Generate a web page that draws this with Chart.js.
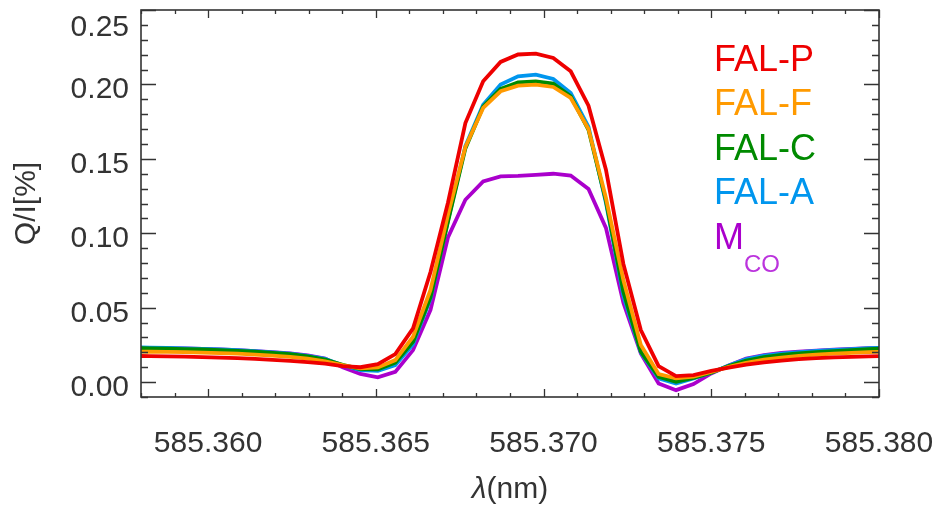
<!DOCTYPE html>
<html>
<head>
<meta charset="utf-8">
<script src="https://cdn.jsdelivr.net/npm/chart.js@4"></script>
<style>
  body { margin: 0; background: #fff; }
  #wrap { width: 938px; height: 508px; }
</style>
</head>
<body>
<div id="wrap"><canvas id="qiChart" width="938" height="508"></canvas></div>
<script>
// wavelength grid (nm)
const wavelengths = [
    585.35774, 585.35826, 585.35878, 585.35931, 585.35983, 585.36035, 585.36088, 585.36140,
    585.36192, 585.36245, 585.36297, 585.36349, 585.36401, 585.36454, 585.36506, 585.36558,
    585.36611, 585.36663, 585.36715, 585.36767, 585.36820, 585.36872, 585.36924, 585.36977,
    585.37029, 585.37081, 585.37134, 585.37186, 585.37238, 585.37290, 585.37343, 585.37395,
    585.37447, 585.37500, 585.37552, 585.37604, 585.37657, 585.37709, 585.37761, 585.37813,
    585.37866, 585.37918, 585.37970, 585.38023
];

// Q/I [%] for each atmosphere model
const falP = [
    0.0176, 0.0175, 0.0173, 0.0171, 0.0168, 0.0165, 0.0161, 0.0156, 0.0150, 0.0143, 0.0135,
    0.0124, 0.0108, 0.0100, 0.0121, 0.0188, 0.0361, 0.0740, 0.1205, 0.1741, 0.2021, 0.2151,
    0.2201, 0.2207, 0.2178, 0.2088, 0.1857, 0.1427, 0.0794, 0.0350, 0.0108, 0.0040, 0.0047,
    0.0075, 0.0097, 0.0117, 0.0133, 0.0145, 0.0154, 0.0161, 0.0166, 0.0170, 0.0173, 0.0175
];
const falF = [
    0.0205, 0.0204, 0.0203, 0.0201, 0.0198, 0.0195, 0.0191, 0.0185, 0.0178, 0.0170, 0.0158,
    0.0140, 0.0114, 0.0093, 0.0099, 0.0148, 0.0305, 0.0620, 0.1124, 0.1580, 0.1842, 0.1954,
    0.1992, 0.1999, 0.1983, 0.1909, 0.1700, 0.1237, 0.0686, 0.0249, 0.0054, 0.0025, 0.0037,
    0.0068, 0.0102, 0.0130, 0.0151, 0.0165, 0.0176, 0.0185, 0.0192, 0.0197, 0.0202, 0.0205
];
const falC = [
    0.0228, 0.0227, 0.0225, 0.0222, 0.0219, 0.0215, 0.0210, 0.0204, 0.0196, 0.0188, 0.0173,
    0.0152, 0.0116, 0.0088, 0.0085, 0.0130, 0.0271, 0.0570, 0.1077, 0.1570, 0.1851, 0.1970,
    0.2014, 0.2021, 0.2005, 0.1920, 0.1695, 0.1218, 0.0606, 0.0204, 0.0036, 0.0002, 0.0029,
    0.0064, 0.0108, 0.0145, 0.0168, 0.0183, 0.0193, 0.0201, 0.0208, 0.0215, 0.0222, 0.0226
];
const falA = [
    0.0233, 0.0232, 0.0230, 0.0227, 0.0223, 0.0219, 0.0214, 0.0208, 0.0199, 0.0191, 0.0177,
    0.0156, 0.0113, 0.0080, 0.0075, 0.0115, 0.0255, 0.0560, 0.1085, 0.1585, 0.1864, 0.1999,
    0.2055, 0.2066, 0.2037, 0.1943, 0.1715, 0.1205, 0.0579, 0.0199, 0.0025, -0.0009, 0.0024,
    0.0063, 0.0112, 0.0154, 0.0178, 0.0192, 0.0202, 0.0210, 0.0216, 0.0222, 0.0228, 0.0232
];
const mCO = [
    0.0231, 0.0230, 0.0228, 0.0226, 0.0223, 0.0219, 0.0214, 0.0208, 0.0201, 0.0193, 0.0180,
    0.0158, 0.0100, 0.0055, 0.0032, 0.0069, 0.0215, 0.0485, 0.0972, 0.1225, 0.1348, 0.1382,
    0.1386, 0.1393, 0.1400, 0.1388, 0.1297, 0.1036, 0.0534, 0.0193, -0.0009, -0.0054, -0.0013,
    0.0058, 0.0112, 0.0158, 0.0182, 0.0196, 0.0205, 0.0212, 0.0218, 0.0223, 0.0229, 0.0232
];

const modelNames = ['FAL-P', 'FAL-F', 'FAL-C', 'FAL-A', 'M'];
const modelColors = ['#ee0000', '#ff9a00', '#008a00', '#0096ee', '#aa00cc'];
const modelValues = [falP, falF, falC, falA, mCO];

const xTicks = [585.360, 585.365, 585.370, 585.375, 585.380];
const yTicks = [0.00, 0.05, 0.10, 0.15, 0.20, 0.25];

const X_MIN = 585.358, X_MAX = 585.380;
const Y_MIN = -0.01, Y_MAX = 0.25;

const FONT = '"Liberation Sans", Arial, Helvetica, sans-serif';
const AXIS_COLOR = '#333';

// box with inward ticks on all four sides + tick labels
const framePlugin = {
    id: 'frame',
    afterDatasetsDraw(chart) {
        const { ctx, chartArea: a, scales: { x, y } } = chart;
        ctx.save();
        ctx.strokeStyle = AXIS_COLOR;
        ctx.lineWidth = 1.6;
        ctx.strokeRect(a.left, a.top, a.right - a.left, a.bottom - a.top);

        ctx.beginPath();
        // x: minor every 0.001, major every 0.005
        for (let n = 585358; n <= 585380; n++) {
            const px = Math.round(x.getPixelForValue(n / 1000)) + 0.5;
            const len = n % 5 === 0 ? 8 : 4;
            ctx.moveTo(px, a.bottom); ctx.lineTo(px, a.bottom - len);
            ctx.moveTo(px, a.top); ctx.lineTo(px, a.top + len);
        }
        // y: minor every 0.01, major every 0.05
        for (let n = -1; n <= 25; n++) {
            const py = Math.round(y.getPixelForValue(n / 100)) + 0.5;
            const len = n % 5 === 0 ? 15 : 7;
            ctx.moveTo(a.left, py); ctx.lineTo(a.left + len, py);
            ctx.moveTo(a.right, py); ctx.lineTo(a.right - len, py);
        }
        ctx.lineWidth = 1.3;
        ctx.stroke();

        ctx.fillStyle = AXIS_COLOR;
        ctx.font = '30px ' + FONT;
        ctx.textBaseline = 'alphabetic';
        ctx.textAlign = 'center';
        xTicks.forEach(v => {
            ctx.fillText(v.toFixed(3), x.getPixelForValue(v), a.bottom + 55);
        });
        ctx.textAlign = 'right';
        yTicks.forEach(v => {
            // keep the top label inside the canvas
            const base = Math.max(y.getPixelForValue(v) + 14, a.top + 26);
            ctx.fillText(v.toFixed(2), a.left - 12, base);
        });

        // x axis title, italic lambda followed by the unit
        const cx = (a.left + a.right) / 2;
        const lam = 'λ', unit = '(nm)';
        ctx.font = 'italic 30px ' + FONT;
        const wl = ctx.measureText(lam).width;
        ctx.font = '30px ' + FONT;
        const wu = ctx.measureText(unit).width;
        const x0 = cx - (wl + wu) / 2;
        ctx.textAlign = 'left';
        ctx.font = 'italic 30px ' + FONT;
        ctx.fillText(lam, x0, 498);
        ctx.font = '30px ' + FONT;
        ctx.fillText(unit, x0 + wl, 498);
        ctx.restore();
    },
    afterDraw(chart) {
        const { ctx } = chart;
        ctx.save();
        ctx.font = '36px ' + FONT;
        ctx.textAlign = 'left';
        ctx.textBaseline = 'alphabetic';
        modelNames.forEach((name, i) => {
            ctx.fillStyle = modelColors[i];
            ctx.fillText(name, 714, 70.5 + i * 44.5);
        });
        // subscript of M_CO
        ctx.font = '24px ' + FONT;
        ctx.fillStyle = '#bb33dd';
        ctx.fillText('CO', 744, 272);
        ctx.restore();
    }
};

const datasets = modelValues.map((vals, i) => ({
    label: modelNames[i],
    data: vals.map((v, j) => ({ x: wavelengths[j], y: v })),
    borderColor: modelColors[i],
    borderWidth: 3.8,
    pointRadius: 0,
    tension: 0,
    fill: false,
    clip: 0
}));

new Chart(document.getElementById('qiChart'), {
    type: 'line',
    data: { datasets: datasets },
    options: {
        responsive: false,
        animation: false,
        layout: { padding: { top: 10, right: 59, left: 0, bottom: 0 } },
        plugins: {
            legend: { display: false },
            tooltip: { enabled: false }
        },
        scales: {
            x: {
                type: 'linear',
                min: X_MIN,
                max: X_MAX,
                grid: { display: false },
                border: { display: false },
                ticks: { display: false },
                afterFit(scale) { scale.height = 111; }
            },
            y: {
                type: 'linear',
                min: Y_MIN,
                max: Y_MAX,
                grid: { display: false },
                border: { display: false },
                ticks: { display: false },
                title: {
                    display: true,
                    text: 'Q/I[%]',
                    color: AXIS_COLOR,
                    font: { family: FONT, size: 30, lineHeight: 1 },
                    padding: { top: 12, bottom: 0 }
                },
                afterFit(scale) { scale.width = 141; }
            }
        }
    },
    plugins: [framePlugin]
});
</script>
</body>
</html>
